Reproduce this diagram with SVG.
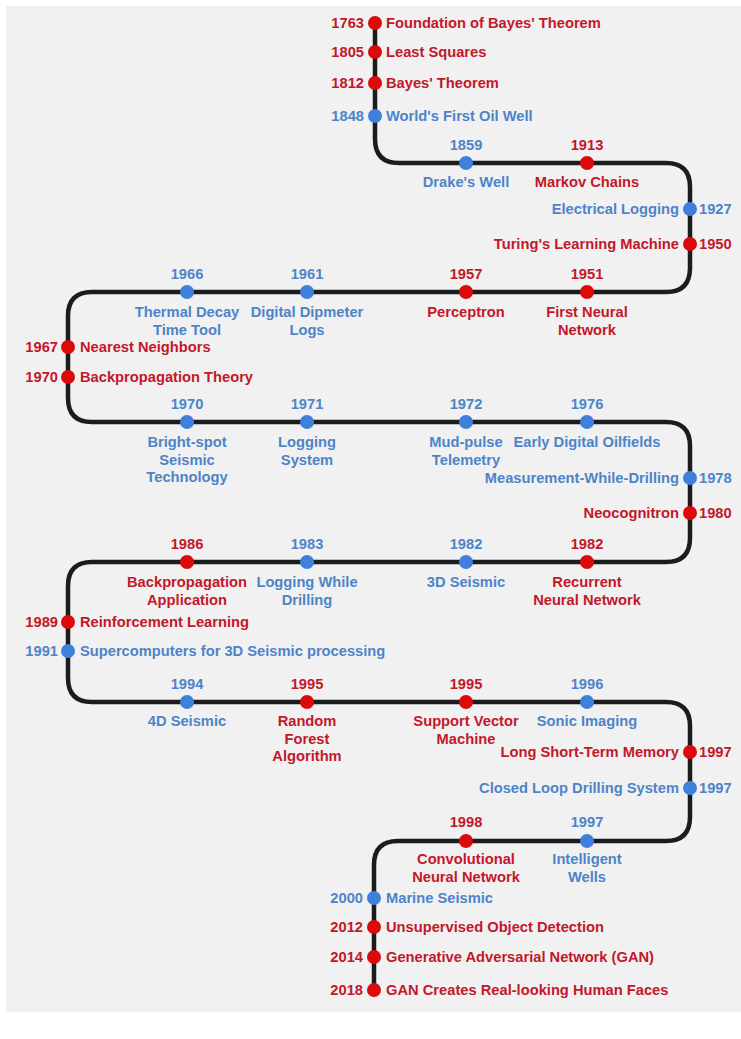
<svg xmlns="http://www.w3.org/2000/svg" width="741" height="1039" viewBox="0 0 741 1039">
<style>
text{font-family:"Liberation Sans",Arial,sans-serif;font-weight:bold;font-size:14.7px}
.r{fill:#c3172a}
.b{fill:#4d84c8}
.rd{fill:#dc0a0a}
.bd{fill:#3f80dd}
.m{text-anchor:middle}
.e{text-anchor:end}
.line{fill:none;stroke:#1c1c1c;stroke-width:4.5;stroke-linecap:round;stroke-linejoin:round}
</style>
<rect x="0" y="0" width="741" height="1039" fill="#ffffff"/>
<rect x="6" y="6" width="735" height="1006" fill="#f1f1f1"/>
<g id="connectors">
<path class="line" d="M375,23 V139 Q375,163 399,163 H666 Q690,163 690,187 V268 Q690,292 666,292 H92 Q68,292 68,316 V398 Q68,422 92,422 H666 Q690,422 690,446 V538 Q690,562 666,562 H92 Q68,562 68,586 V678 Q68,702 92,702 H666 Q690,702 690,726 V817 Q690,841 666,841 H398 Q374,841 374,865 V990"/>
</g>
<!-- top vertical -->
<g id="n1763"><circle class="rd" cx="375" cy="23" r="7"/><text class="r e" x="364" y="28">1763</text><text class="r" x="386" y="28">Foundation of Bayes' Theorem</text></g>
<g id="n1805"><circle class="rd" cx="375" cy="52" r="7"/><text class="r e" x="364" y="57">1805</text><text class="r" x="386" y="57">Least Squares</text></g>
<g id="n1812"><circle class="rd" cx="375" cy="83" r="7"/><text class="r e" x="364" y="88">1812</text><text class="r" x="386" y="88">Bayes' Theorem</text></g>
<g id="n1848"><circle class="bd" cx="375" cy="116" r="7"/><text class="b e" x="364" y="121">1848</text><text class="b" x="386" y="121">World's First Oil Well</text></g>
<!-- row 163 -->
<g id="n1859"><circle class="bd" cx="466" cy="163" r="7"/><text class="b m" x="466" y="150">1859</text><text class="b m" x="466" y="187">Drake's Well</text></g>
<g id="n1913"><circle class="rd" cx="587" cy="163" r="7"/><text class="r m" x="587" y="150">1913</text><text class="r m" x="587" y="187">Markov Chains</text></g>
<!-- right -->
<g id="n1927"><circle class="bd" cx="690" cy="209" r="7"/><text class="b e" x="679" y="214">Electrical Logging</text><text class="b" x="699" y="214">1927</text></g>
<g id="n1950"><circle class="rd" cx="690" cy="244" r="7"/><text class="r e" x="679" y="249">Turing's Learning Machine</text><text class="r" x="699" y="249">1950</text></g>
<!-- row 292 -->
<g id="n1966"><circle class="bd" cx="187" cy="292" r="7"/><text class="b m" x="187" y="279">1966</text><text class="b m" x="187" y="317"><tspan x="187">Thermal Decay</tspan><tspan x="187" dy="17.5">Time Tool</tspan></text></g>
<g id="n1961"><circle class="bd" cx="307" cy="292" r="7"/><text class="b m" x="307" y="279">1961</text><text class="b m" x="307" y="317"><tspan x="307">Digital Dipmeter</tspan><tspan x="307" dy="17.5">Logs</tspan></text></g>
<g id="n1957"><circle class="rd" cx="466" cy="292" r="7"/><text class="r m" x="466" y="279">1957</text><text class="r m" x="466" y="317">Perceptron</text></g>
<g id="n1951"><circle class="rd" cx="587" cy="292" r="7"/><text class="r m" x="587" y="279">1951</text><text class="r m" x="587" y="317"><tspan x="587">First Neural</tspan><tspan x="587" dy="17.5">Network</tspan></text></g>
<!-- left -->
<g id="n1967"><circle class="rd" cx="68" cy="347" r="7"/><text class="r e" x="58" y="352">1967</text><text class="r" x="80" y="352">Nearest Neighbors</text></g>
<g id="n1970a"><circle class="rd" cx="68" cy="377" r="7"/><text class="r e" x="58" y="382">1970</text><text class="r" x="80" y="382">Backpropagation Theory</text></g>
<!-- row 422 -->
<g id="n1970b"><circle class="bd" cx="187" cy="422" r="7"/><text class="b m" x="187" y="409">1970</text><text class="b m" x="187" y="447"><tspan x="187">Bright-spot</tspan><tspan x="187" dy="17.5">Seismic</tspan><tspan x="187" dy="17.5">Technology</tspan></text></g>
<g id="n1971"><circle class="bd" cx="307" cy="422" r="7"/><text class="b m" x="307" y="409">1971</text><text class="b m" x="307" y="447"><tspan x="307">Logging</tspan><tspan x="307" dy="17.5">System</tspan></text></g>
<g id="n1972"><circle class="bd" cx="466" cy="422" r="7"/><text class="b m" x="466" y="409">1972</text><text class="b m" x="466" y="447"><tspan x="466">Mud-pulse</tspan><tspan x="466" dy="17.5">Telemetry</tspan></text></g>
<g id="n1976"><circle class="bd" cx="587" cy="422" r="7"/><text class="b m" x="587" y="409">1976</text><text class="b m" x="587" y="447">Early Digital Oilfields</text></g>
<!-- right -->
<g id="n1978"><circle class="bd" cx="690" cy="478" r="7"/><text class="b e" x="679" y="483">Measurement-While-Drilling</text><text class="b" x="699" y="483">1978</text></g>
<g id="n1980"><circle class="rd" cx="690" cy="513" r="7"/><text class="r e" x="679" y="518">Neocognitron</text><text class="r" x="699" y="518">1980</text></g>
<!-- row 562 -->
<g id="n1986"><circle class="rd" cx="187" cy="562" r="7"/><text class="r m" x="187" y="549">1986</text><text class="r m" x="187" y="587"><tspan x="187">Backpropagation</tspan><tspan x="187" dy="17.5">Application</tspan></text></g>
<g id="n1983"><circle class="bd" cx="307" cy="562" r="7"/><text class="b m" x="307" y="549">1983</text><text class="b m" x="307" y="587"><tspan x="307">Logging While</tspan><tspan x="307" dy="17.5">Drilling</tspan></text></g>
<g id="n1982a"><circle class="bd" cx="466" cy="562" r="7"/><text class="b m" x="466" y="549">1982</text><text class="b m" x="466" y="587">3D Seismic</text></g>
<g id="n1982b"><circle class="rd" cx="587" cy="562" r="7"/><text class="r m" x="587" y="549">1982</text><text class="r m" x="587" y="587"><tspan x="587">Recurrent</tspan><tspan x="587" dy="17.5">Neural Network</tspan></text></g>
<!-- left -->
<g id="n1989"><circle class="rd" cx="68" cy="622" r="7"/><text class="r e" x="58" y="627">1989</text><text class="r" x="80" y="627">Reinforcement Learning</text></g>
<g id="n1991"><circle class="bd" cx="68" cy="651" r="7"/><text class="b e" x="58" y="656">1991</text><text class="b" x="80" y="656">Supercomputers for 3D Seismic processing</text></g>
<!-- row 702 -->
<g id="n1994"><circle class="bd" cx="187" cy="702" r="7"/><text class="b m" x="187" y="689">1994</text><text class="b m" x="187" y="726">4D Seismic</text></g>
<g id="n1995a"><circle class="rd" cx="307" cy="702" r="7"/><text class="r m" x="307" y="689">1995</text><text class="r m" x="307" y="726"><tspan x="307">Random</tspan><tspan x="307" dy="17.5">Forest</tspan><tspan x="307" dy="17.5">Algorithm</tspan></text></g>
<g id="n1995b"><circle class="rd" cx="466" cy="702" r="7"/><text class="r m" x="466" y="689">1995</text><text class="r m" x="466" y="726"><tspan x="466">Support Vector</tspan><tspan x="466" dy="17.5">Machine</tspan></text></g>
<g id="n1996"><circle class="bd" cx="587" cy="702" r="7"/><text class="b m" x="587" y="689">1996</text><text class="b m" x="587" y="726">Sonic Imaging</text></g>
<!-- right -->
<g id="n1997a"><circle class="rd" cx="690" cy="752" r="7"/><text class="r e" x="679" y="757">Long Short-Term Memory</text><text class="r" x="699" y="757">1997</text></g>
<g id="n1997b"><circle class="bd" cx="690" cy="788" r="7"/><text class="b e" x="679" y="793">Closed Loop Drilling System</text><text class="b" x="699" y="793">1997</text></g>
<!-- row 841 -->
<g id="n1998"><circle class="rd" cx="466" cy="841" r="7"/><text class="r m" x="466" y="827">1998</text><text class="r m" x="466" y="864"><tspan x="466">Convolutional</tspan><tspan x="466" dy="17.5">Neural Network</tspan></text></g>
<g id="n1997c"><circle class="bd" cx="587" cy="841" r="7"/><text class="b m" x="587" y="827">1997</text><text class="b m" x="587" y="864"><tspan x="587">Intelligent</tspan><tspan x="587" dy="17.5">Wells</tspan></text></g>
<!-- bottom vertical -->
<g id="n2000"><circle class="bd" cx="374" cy="898" r="7"/><text class="b e" x="363" y="903">2000</text><text class="b" x="386" y="903">Marine Seismic</text></g>
<g id="n2012"><circle class="rd" cx="374" cy="927" r="7"/><text class="r e" x="363" y="932">2012</text><text class="r" x="386" y="932">Unsupervised Object Detection</text></g>
<g id="n2014"><circle class="rd" cx="374" cy="957" r="7"/><text class="r e" x="363" y="962">2014</text><text class="r" x="386" y="962">Generative Adversarial Network (GAN)</text></g>
<g id="n2018"><circle class="rd" cx="374" cy="990" r="7"/><text class="r e" x="363" y="995">2018</text><text class="r" x="386" y="995">GAN Creates Real-looking Human Faces</text></g>
</svg>
